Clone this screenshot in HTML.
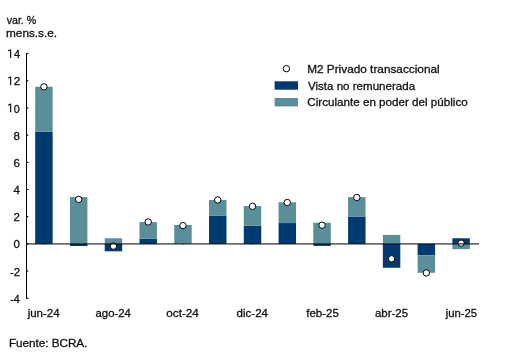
<!DOCTYPE html>
<html><head><meta charset="utf-8"><style>
html,body{margin:0;padding:0;background:#fff;}
svg{display:block;will-change:transform;}
text{font-family:"Liberation Sans",sans-serif;font-size:11.5px;fill:#111;stroke:#111;stroke-width:0.3px;}
</style></head><body>
<svg width="508" height="357" viewBox="0 0 508 357">
<rect width="508" height="357" fill="#fff"/>
<text id="var" x="6.64" y="24.00" textLength="29.67" lengthAdjust="spacingAndGlyphs">var. %</text>
<text id="mens" x="5.99" y="37.00" textLength="51.17" lengthAdjust="spacingAndGlyphs">mens.s.e.</text>
<rect x="43.31" y="244.05" width="1.2" height="0.9" fill="#000" fill-opacity="0.55"/><rect x="112.84" y="244.05" width="1.2" height="0.9" fill="#000" fill-opacity="0.55"/><rect x="182.38" y="244.05" width="1.2" height="0.9" fill="#000" fill-opacity="0.55"/><rect x="251.91" y="244.05" width="1.2" height="0.9" fill="#000" fill-opacity="0.55"/><rect x="321.45" y="244.05" width="1.2" height="0.9" fill="#000" fill-opacity="0.55"/><rect x="390.98" y="244.05" width="1.2" height="0.9" fill="#000" fill-opacity="0.55"/><rect x="460.51" y="244.05" width="1.2" height="0.9" fill="#000" fill-opacity="0.55"/><rect x="35.18" y="131.87" width="17.46" height="111.98" fill="#003A70"/><rect x="35.18" y="86.75" width="17.46" height="45.12" fill="#5A8F99"/><rect x="69.95" y="243.85" width="17.46" height="2.17" fill="#003A70"/><rect x="69.95" y="197.10" width="17.46" height="46.75" fill="#5A8F99"/><rect x="104.71" y="243.85" width="17.46" height="7.47" fill="#003A70"/><rect x="104.71" y="238.28" width="17.46" height="5.57" fill="#5A8F99"/><rect x="139.48" y="238.69" width="17.46" height="5.16" fill="#003A70"/><rect x="139.48" y="222.11" width="17.46" height="16.58" fill="#5A8F99"/><rect x="174.25" y="243.44" width="17.46" height="0.41" fill="#003A70"/><rect x="174.25" y="224.96" width="17.46" height="18.48" fill="#5A8F99"/><rect x="209.02" y="215.58" width="17.46" height="28.27" fill="#003A70"/><rect x="209.02" y="199.95" width="17.46" height="15.63" fill="#5A8F99"/><rect x="243.78" y="225.78" width="17.46" height="18.07" fill="#003A70"/><rect x="243.78" y="206.07" width="17.46" height="19.71" fill="#5A8F99"/><rect x="278.55" y="223.06" width="17.46" height="20.79" fill="#003A70"/><rect x="278.55" y="202.26" width="17.46" height="20.79" fill="#5A8F99"/><rect x="313.32" y="243.85" width="17.46" height="2.04" fill="#003A70"/><rect x="313.32" y="222.79" width="17.46" height="21.06" fill="#5A8F99"/><rect x="348.08" y="216.53" width="17.46" height="27.32" fill="#003A70"/><rect x="348.08" y="197.10" width="17.46" height="19.43" fill="#5A8F99"/><rect x="382.85" y="243.85" width="17.46" height="23.92" fill="#003A70"/><rect x="382.85" y="234.88" width="17.46" height="8.97" fill="#5A8F99"/><rect x="417.62" y="243.85" width="17.46" height="11.42" fill="#003A70"/><rect x="417.62" y="255.27" width="17.46" height="17.53" fill="#5A8F99"/><rect x="452.38" y="238.28" width="17.46" height="5.57" fill="#003A70"/><rect x="452.38" y="243.85" width="17.46" height="5.30" fill="#5A8F99"/>
<circle cx="43.91" cy="86.86" r="3.2" fill="#fff" stroke="#000" stroke-width="1.0"/><circle cx="78.68" cy="199.39" r="3.2" fill="#fff" stroke="#000" stroke-width="1.0"/><circle cx="113.44" cy="246.14" r="3.2" fill="#fff" stroke="#000" stroke-width="1.0"/><circle cx="148.21" cy="221.95" r="3.2" fill="#fff" stroke="#000" stroke-width="1.0"/><circle cx="182.98" cy="225.62" r="3.2" fill="#fff" stroke="#000" stroke-width="1.0"/><circle cx="217.75" cy="199.93" r="3.2" fill="#fff" stroke="#000" stroke-width="1.0"/><circle cx="252.51" cy="206.32" r="3.2" fill="#fff" stroke="#000" stroke-width="1.0"/><circle cx="287.28" cy="202.51" r="3.2" fill="#fff" stroke="#000" stroke-width="1.0"/><circle cx="322.05" cy="225.21" r="3.2" fill="#fff" stroke="#000" stroke-width="1.0"/><circle cx="356.81" cy="197.49" r="3.2" fill="#fff" stroke="#000" stroke-width="1.0"/><circle cx="391.58" cy="258.78" r="3.2" fill="#fff" stroke="#000" stroke-width="1.0"/><circle cx="426.35" cy="272.91" r="3.2" fill="#fff" stroke="#000" stroke-width="1.0"/><circle cx="461.11" cy="243.15" r="3.2" fill="#fff" stroke="#000" stroke-width="1.0"/>
<line x1="26" y1="243.85" x2="479" y2="243.85" stroke="#000" stroke-opacity="0.58" stroke-width="1.6"/>
<line x1="26.5" y1="53" x2="26.5" y2="298.9" stroke="#000" stroke-width="1"/>
<line x1="26" y1="298.21" x2="28.4" y2="298.21" stroke="#000" stroke-width="1.1"/><line x1="26" y1="271.03" x2="28.4" y2="271.03" stroke="#000" stroke-width="1.1"/><line x1="26" y1="243.85" x2="28.4" y2="243.85" stroke="#000" stroke-width="1.1"/><line x1="26" y1="216.67" x2="28.4" y2="216.67" stroke="#000" stroke-width="1.1"/><line x1="26" y1="189.49" x2="28.4" y2="189.49" stroke="#000" stroke-width="1.1"/><line x1="26" y1="162.31" x2="28.4" y2="162.31" stroke="#000" stroke-width="1.1"/><line x1="26" y1="135.13" x2="28.4" y2="135.13" stroke="#000" stroke-width="1.1"/><line x1="26" y1="107.95" x2="28.4" y2="107.95" stroke="#000" stroke-width="1.1"/><line x1="26" y1="80.77" x2="28.4" y2="80.77" stroke="#000" stroke-width="1.1"/><line x1="26" y1="53.59" x2="28.4" y2="53.59" stroke="#000" stroke-width="1.1"/>
<text id="y-4" x="19.85" y="302.81" text-anchor="end" textLength="9.59" lengthAdjust="spacingAndGlyphs">-4</text><text id="y-2" x="20.10" y="275.63" text-anchor="end" textLength="10.21" lengthAdjust="spacingAndGlyphs">-2</text><text id="y0" x="20.00" y="248.45" text-anchor="end">0</text><text id="y2" x="20.00" y="221.27" text-anchor="end">2</text><text id="y4" x="20.00" y="194.09" text-anchor="end">4</text><text id="y6" x="20.00" y="166.91" text-anchor="end">6</text><text id="y8" x="20.00" y="139.73" text-anchor="end">8</text><path d="M10.05 103.75H11.2V112.35H10.05Z" fill="#111"/><path d="M10.6 104.15L8.1 105.25" stroke="#111" stroke-width="1.15" fill="none"/><text id="y10" x="19.68" y="112.55" text-anchor="end" textLength="6.02" lengthAdjust="spacingAndGlyphs">0</text><path d="M10.05 76.57H11.2V85.17H10.05Z" fill="#111"/><path d="M10.6 76.97L8.1 78.07" stroke="#111" stroke-width="1.15" fill="none"/><text id="y12" x="20.32" y="85.37" text-anchor="end" textLength="6.65" lengthAdjust="spacingAndGlyphs">2</text><path d="M10.05 49.39H11.2V57.99H10.05Z" fill="#111"/><path d="M10.6 49.79L8.1 50.89" stroke="#111" stroke-width="1.15" fill="none"/><text id="y14" x="19.96" y="58.19" text-anchor="end" textLength="6.07" lengthAdjust="spacingAndGlyphs">4</text>
<text id="x0" x="43.68" y="316.80" text-anchor="middle" textLength="32.02" lengthAdjust="spacingAndGlyphs">jun-24</text><text id="x1" x="113.19" y="316.80" text-anchor="middle" textLength="35.38" lengthAdjust="spacingAndGlyphs">ago-24</text><text id="x2" x="182.55" y="316.80" text-anchor="middle" textLength="32.46" lengthAdjust="spacingAndGlyphs">oct-24</text><text id="x3" x="252.26" y="316.80" text-anchor="middle" textLength="31.44" lengthAdjust="spacingAndGlyphs">dic-24</text><text id="x4" x="322.52" y="316.80" text-anchor="middle" textLength="32.57" lengthAdjust="spacingAndGlyphs">feb-25</text><text id="x5" x="391.53" y="316.80" text-anchor="middle" textLength="33.20" lengthAdjust="spacingAndGlyphs">abr-25</text><text id="x6" x="461.43" y="316.80" text-anchor="middle" textLength="31.44" lengthAdjust="spacingAndGlyphs">jun-25</text>
<circle cx="286.4" cy="68.7" r="3.2" fill="#fff" stroke="#000" stroke-width="1.0"/>
<rect x="274.6" y="81.3" width="23.4" height="8.4" fill="#003A70"/>
<rect x="274.6" y="98.0" width="23.4" height="8.4" fill="#5A8F99"/>
<text id="leg1" x="307.17" y="73.00" textLength="132.48" lengthAdjust="spacingAndGlyphs">M2 Privado transaccional</text>
<text id="leg2" x="307.95" y="89.50" textLength="107.16" lengthAdjust="spacingAndGlyphs">Vista no remunerada</text>
<text id="leg3" x="307.37" y="106.00" textLength="160.34" lengthAdjust="spacingAndGlyphs">Circulante en poder del público</text>
<text id="fuente" x="8.97" y="347.30" textLength="78.40" lengthAdjust="spacingAndGlyphs">Fuente: BCRA.</text>
</svg>
</body></html>
